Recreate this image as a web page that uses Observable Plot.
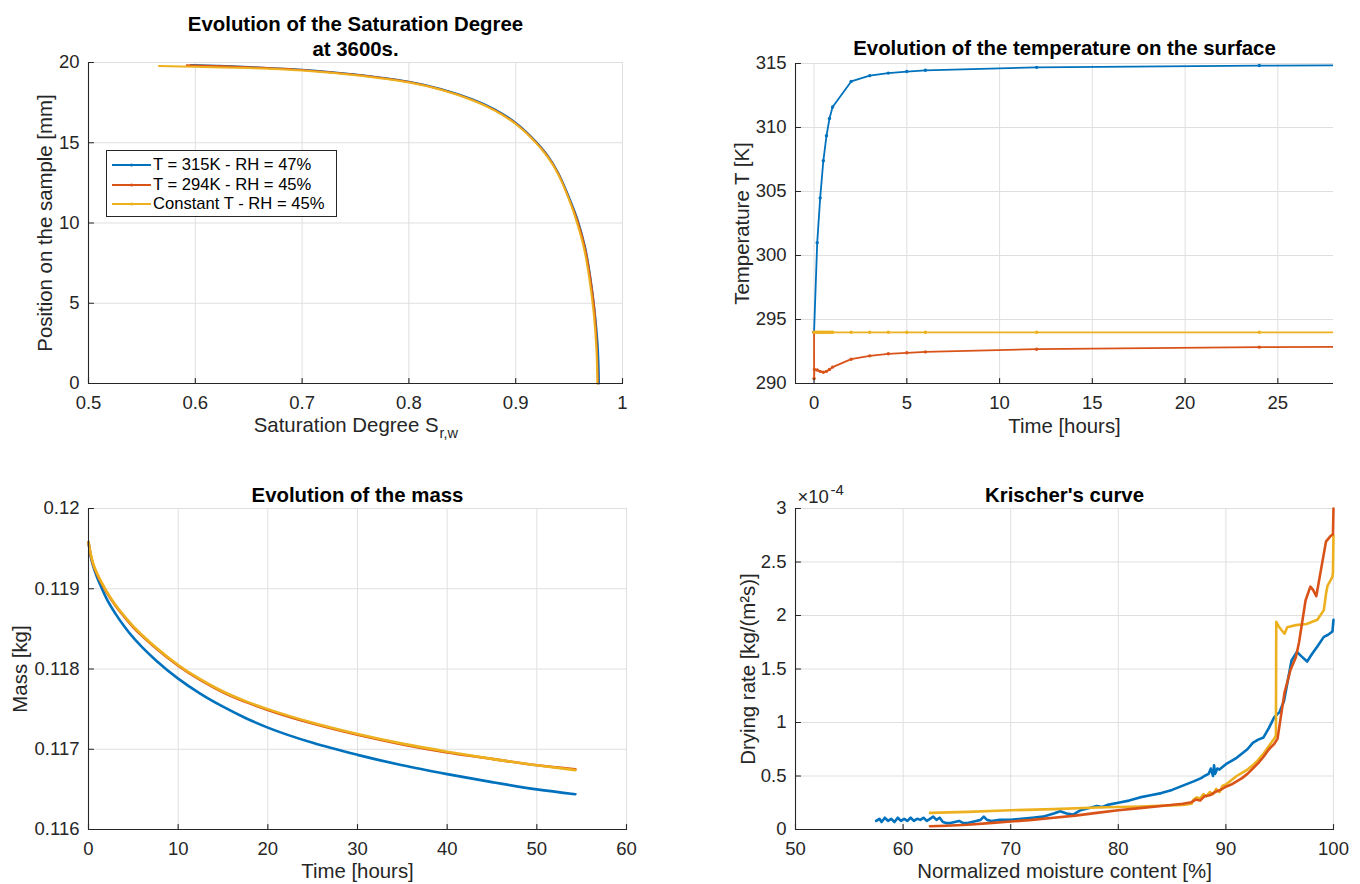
<!DOCTYPE html>
<html><head><meta charset="utf-8">
<script src="https://cdn.jsdelivr.net/npm/d3@7"></script>
<script src="https://cdn.jsdelivr.net/npm/@observablehq/plot@0.6"></script>
<style>
body{margin:0;background:#fff;}
#fig{position:relative;width:1360px;height:884px;background:#fff;overflow:hidden;font-family:"Liberation Sans",Arial,Helvetica,sans-serif;}
#fig > svg{position:absolute;}
.legend{position:absolute;left:106px;top:150px;width:229px;height:65px;border:1px solid #262626;background:#fff;}
.legend .row{position:absolute;left:0;height:20px;display:flex;align-items:center;font-size:16.6px;color:#000;white-space:nowrap;}
.legend .row svg{display:block;margin-left:5px;margin-right:2px;}
</style></head><body><div id="fig"></div>
<script>
// ---------- colours / labels ----------
const seriesNames = ["T = 315K - RH = 47%", "T = 294K - RH = 45%", "Constant T - RH = 45%"];
const seriesColors = ["#0072BD", "#D95319", "#EDB120"];

// ---------- Panel 1 : saturation degree profile at 3600 s ----------
const satBlueX = [0.596,0.62,0.65,0.7,0.75,0.8,0.83,0.86,0.88,0.9,0.915,0.93,0.94,0.95,0.958,0.965,0.97,0.974,0.977,0.978];
const satBlueY = [19.85,19.8,19.72,19.55,19.25,18.8,18.35,17.7,17.1,16.25,15.35,14.2,13.1,11.6,10.2,8.5,6.6,4.5,2.2,0];
const satRedX  = [0.592,0.62,0.65,0.7,0.75,0.8,0.83,0.86,0.88,0.9,0.915,0.93,0.94,0.95,0.958,0.965,0.97,0.974,0.976,0.977];
const satRedY  = [19.83,19.78,19.71,19.54,19.23,18.78,18.32,17.66,17.05,16.2,15.3,14.15,13.05,11.5,10.1,8.4,6.5,4.4,2.2,0];
const satYelX  = [0.566,0.6,0.65,0.7,0.75,0.8,0.83,0.86,0.88,0.9,0.915,0.93,0.94,0.95,0.957,0.964,0.969,0.973,0.9755,0.9765];
const satYelY  = [19.78,19.73,19.66,19.5,19.2,18.75,18.3,17.63,17.02,16.17,15.27,14.1,13.0,11.45,10.1,8.4,6.5,4.4,2.2,0];
const satXTicks = [0.5,0.6,0.7,0.8,0.9,1];
const satYTicks = [0,5,10,15,20];

// ---------- Panel 2 : surface temperature ----------
const tempBlueT = [0,0.17,0.33,0.5,0.67,0.83,1,2,3,4,5,6,12,24,48];
const tempBlueV = [294,301,304.5,307.4,309.35,310.7,311.6,313.6,314.05,314.25,314.37,314.47,314.7,314.84,314.9];
const tempRedT  = [0,0.003,0.02,0.17,0.33,0.5,0.67,0.83,1,2,3,4,5,6,12,24,48];
const tempRedV  = [294,290.4,291.1,291.05,290.95,290.88,290.95,291.1,291.28,291.9,292.16,292.32,292.4,292.47,292.68,292.84,292.95];
const tempYelT  = [0,0.083,0.17,0.25,0.33,0.42,0.5,0.58,0.67,0.75,0.83,0.92,1,2,3,4,5,6,12,24,48];
const tempYelV  = [294,294,294,294,294,294,294,294,294,294,294,294,294,294,294,294,294,294,294,294,294];
const tempXTicks = [0,5,10,15,20,25];
const tempYTicks = [290,295,300,305,310,315];

// ---------- Panel 3 : mass ----------
const massT    = [0,0.25,0.5,1,1.5,2,3,4,5,6,7.5,10,12.5,15,17.5,20,25,30,35,40,45,50,54.3];
const massBlue = [0.11958,0.11940,0.11929,0.11913,0.11900,0.11888,0.11869,0.11853,0.11839,0.11827,0.11811,0.11788,0.11769,0.11753,0.11739,0.11727,0.11708,0.11693,0.11680,0.11669,0.11659,0.11650,0.11644];
const massRed  = [0.11958,0.11942,0.11931,0.11917,0.11906,0.11896,0.11879,0.11865,0.11852,0.11841,0.11826,0.11804,0.11786,0.11771,0.11759,0.11749,0.11732,0.11718,0.11706,0.11696,0.11688,0.11680,0.11675];
const massYel  = [0.11958,0.11943,0.11932,0.11918,0.11907,0.11897,0.11880,0.11866,0.11853,0.11842,0.11827,0.11805,0.11787,0.11772,0.11760,0.11750,0.11733,0.11719,0.11707,0.11697,0.11688,0.11680,0.11674];
const massXTicks = [0,10,20,30,40,50,60];
const massYTicks = [0.116,0.117,0.118,0.119,0.12];

// ---------- Panel 4 : Krischer's curve (drying rate in units of 1e-4 kg/(m2 s)) ----------
const kBlueX = [57.5,57.8,58.0,58.3,58.6,58.9,59.2,59.5,59.8,60.1,60.4,60.7,61.0,61.3,61.6,61.9,62.2,62.5,62.8,63.1,63.4,63.7,64.0,64.4,64.8,65.2,65.6,66.0,66.4,66.8,67.2,67.5,67.8,68.2,69.0,70.0,71.0,72.0,73.0,74.0,74.6,75.2,75.8,76.5,77.3,78.0,78.5,79.0,80.0,81.0,82.0,83.0,84.0,85.0,86.0,87.0,87.7,88.0,88.4,88.6,88.8,88.9,89.0,89.2,89.4,90.0,91.0,92.0,92.5,93.0,93.5,94.0,94.5,95.0,95.4,95.75,96.1,96.6,97.0,97.55,98.0,98.5,99.1,99.5,99.9,100];
const kBlueY = [0.08,0.10,0.07,0.11,0.08,0.10,0.07,0.11,0.08,0.10,0.08,0.11,0.08,0.10,0.09,0.11,0.08,0.10,0.12,0.09,0.11,0.07,0.06,0.06,0.07,0.08,0.06,0.06,0.07,0.08,0.09,0.12,0.09,0.08,0.09,0.09,0.10,0.11,0.12,0.15,0.17,0.15,0.14,0.18,0.20,0.22,0.21,0.23,0.25,0.27,0.30,0.32,0.34,0.37,0.41,0.45,0.48,0.50,0.52,0.57,0.50,0.60,0.52,0.57,0.56,0.61,0.67,0.75,0.81,0.84,0.86,0.95,1.05,1.10,1.20,1.39,1.58,1.66,1.62,1.57,1.64,1.71,1.80,1.82,1.85,1.96];
const kRedX  = [62.5,64,66,68,70,72,74,76,78,80,82,84,86,86.8,87.2,87.6,88.0,88.5,89.0,89.5,90.0,90.5,91.0,91.5,92.0,92.5,93.0,93.5,94.0,94.5,94.8,95.1,95.45,96.0,96.5,96.8,97.2,97.4,97.85,98.1,98.4,98.7,99.0,99.3,99.7,99.95,100];
const kRedY  = [0.03,0.035,0.045,0.06,0.075,0.09,0.11,0.13,0.155,0.18,0.20,0.22,0.24,0.255,0.28,0.27,0.31,0.32,0.35,0.37,0.40,0.42,0.45,0.48,0.52,0.57,0.62,0.68,0.75,0.80,0.85,1.05,1.28,1.49,1.61,1.75,2.01,2.14,2.27,2.24,2.18,2.35,2.52,2.69,2.74,2.76,3.0];
const kYelX  = [62.5,66,70,74,78,82,86,86.8,87.0,87.3,87.6,87.9,88.2,88.5,88.8,89.1,89.4,89.7,90.0,90.5,91.0,91.5,92.0,92.5,93.0,93.5,94.0,94.5,94.65,94.68,94.9,95.2,95.45,95.7,96.5,97.5,98.5,99.1,99.3,99.45,99.9,99.95,100];
const kYelY  = [0.155,0.165,0.18,0.19,0.205,0.215,0.23,0.24,0.28,0.30,0.29,0.33,0.31,0.35,0.33,0.38,0.35,0.41,0.42,0.46,0.50,0.53,0.56,0.60,0.65,0.71,0.78,0.85,0.88,1.94,1.90,1.86,1.83,1.89,1.91,1.92,1.96,2.05,2.20,2.28,2.36,2.40,2.75];
const kXTicks = [50,60,70,80,90,100];
const kYTicks = [0,0.5,1,1.5,2,2.5,3];

// ---------- helpers ----------
const FONT = '"Liberation Sans", Arial, Helvetica, sans-serif';
const AX = "#262626", GRID = "#dfdfdf";
const TICK = {draw(ctx, l) { ctx.moveTo(0, 0); ctx.lineTo(0, -l); }};
const zipXY = (xs, ys) => xs.map((x, i) => ({x, y: ys[i]}));

function gridMarks(xt, yt) {
  return [
    Plot.gridX(xt, {stroke: GRID, strokeOpacity: 1}),
    Plot.gridY(yt, {stroke: GRID, strokeOpacity: 1})
  ];
}
function axisMarks(xd, yd, xt, yt, xfmt, yfmt) {
  return [
    Plot.ruleY([yd[0]], {stroke: AX, strokeWidth: 1.1}),
    Plot.ruleX([xd[0]], {stroke: AX, strokeWidth: 1.1}),
    Plot.vector(xt, {x: d => d, y: yd[0], length: 5, rotate: 0, anchor: "start", shape: TICK, stroke: AX, strokeWidth: 1.1}),
    Plot.vector(yt, {x: xd[0], y: d => d, length: 5, rotate: 90, anchor: "start", shape: TICK, stroke: AX, strokeWidth: 1.1}),
    Plot.axisX(xt, {tickSize: 0, tickPadding: 12, tickFormat: xfmt, label: null, fill: AX, fontSize: 18.5}),
    Plot.axisY(yt, {tickSize: 0, tickPadding: 9, tickFormat: yfmt, label: null, fill: AX, fontSize: 18.5})
  ];
}
function yLabel(text, dx) {
  return Plot.text([text], {text: d => d, frameAnchor: "left", dx, rotate: -90, textAnchor: "middle", lineAnchor: "middle", fontSize: 20.4, fill: AX});
}
function place(svg, left, top) {
  svg.style.left = left + "px";
  svg.style.top = top + "px";
  document.getElementById("fig").appendChild(svg);
}
const baseStyle = {fontFamily: FONT, fontSize: "18.5px", color: AX, background: "transparent", overflow: "visible"};

// ---------- Panel 1 ----------
{
  const xd = [0.5, 1], yd = [0, 20];
  const data = [zipXY(satBlueX, satBlueY), zipXY(satRedX, satRedY), zipXY(satYelX, satYelY)];
  const svg = Plot.plot({
    width: 680, height: 442, marginLeft: 88, marginTop: 62, marginRight: 58, marginBottom: 59,
    style: baseStyle,
    x: {domain: xd}, y: {domain: yd},
    marks: [
      ...gridMarks(satXTicks, satYTicks),
      ...data.map((d, i) => Plot.line(d, {x: "x", y: "y", stroke: seriesColors[i], strokeWidth: 2, curve: "catmull-rom"})),
      ...axisMarks(xd, yd, satXTicks, satYTicks, d => String(d), d => String(d)),
      Plot.text(["Evolution of the Saturation Degree\nat 3600s."], {text: d => d, frameAnchor: "top", dy: -27, lineAnchor: "middle", lineHeight: 1.255, fontSize: 20.4, fontWeight: "bold", fill: "#000"}),
      yLabel("Position on the sample [mm]", -43),
      Plot.text(["Saturation Degree S"], {text: d => d, frameAnchor: "bottom", dx: 83, dy: 42, textAnchor: "end", lineAnchor: "middle", fontSize: 20.4, fill: AX}),
      Plot.text(["r,w"], {text: d => d, frameAnchor: "bottom", dx: 84, dy: 50, textAnchor: "start", lineAnchor: "middle", fontSize: 14.5, fill: AX})
    ]
  });
  place(svg, 0, 0);
}

// ---------- Panel 2 ----------
{
  const xd = [-1, 28], yd = [290, 315];
  const data = [zipXY(tempBlueT, tempBlueV), zipXY(tempRedT, tempRedV), zipXY(tempYelT, tempYelV)];
  const svg = Plot.plot({
    width: 680, height: 442, marginLeft: 115, marginTop: 63, marginRight: 27, marginBottom: 59,
    style: baseStyle,
    x: {domain: xd}, y: {domain: yd},
    marks: [
      ...gridMarks(tempXTicks, tempYTicks),
      ...data.flatMap((d, i) => [
        Plot.line(d, {x: "x", y: "y", stroke: seriesColors[i], strokeWidth: 1.8, clip: true}),
        Plot.dot(d, {x: "x", y: "y", fill: seriesColors[i], r: 1.7, clip: true})
      ]),
      ...axisMarks(xd, yd, tempXTicks, tempYTicks, d => String(d), d => String(d)),
      Plot.text(["Evolution of the temperature on the surface"], {text: d => d, frameAnchor: "top", dy: -15, lineAnchor: "middle", fontSize: 20.4, fontWeight: "bold", fill: "#000"}),
      yLabel("Temperature T [K]", -53),
      Plot.text(["Time [hours]"], {text: d => d, frameAnchor: "bottom", dy: 43, lineAnchor: "middle", fontSize: 20.4, fill: AX})
    ]
  });
  place(svg, 680, 0);
}

// ---------- Panel 3 ----------
{
  const xd = [0, 60], yd = [0.116, 0.12];
  const data = [zipXY(massT, massBlue), zipXY(massT, massRed), zipXY(massT, massYel)];
  const svg = Plot.plot({
    width: 680, height: 442, marginLeft: 88, marginTop: 66, marginRight: 54, marginBottom: 55,
    style: baseStyle,
    x: {domain: xd}, y: {domain: yd},
    marks: [
      ...gridMarks(massXTicks, massYTicks),
      ...data.map((d, i) => Plot.line(d, {x: "x", y: "y", stroke: seriesColors[i], strokeWidth: 2.6, curve: "monotone-x"})),
      ...axisMarks(xd, yd, massXTicks, massYTicks, d => String(d), d => String(+d.toFixed(3))),
      Plot.text(["Evolution of the mass"], {text: d => d, frameAnchor: "top", dy: -13, lineAnchor: "middle", fontSize: 20.4, fontWeight: "bold", fill: "#000"}),
      yLabel("Mass [kg]", -68),
      Plot.text(["Time [hours]"], {text: d => d, frameAnchor: "bottom", dy: 42, lineAnchor: "middle", fontSize: 20.4, fill: AX})
    ]
  });
  place(svg, 0, 442);
}

// ---------- Panel 4 ----------
{
  const xd = [50, 100], yd = [0, 3];
  const data = [zipXY(kBlueX, kBlueY), zipXY(kYelX, kYelY), zipXY(kRedX, kRedY)];
  const cols = [seriesColors[0], seriesColors[2], seriesColors[1]];
  const svg = Plot.plot({
    width: 680, height: 442, marginLeft: 115, marginTop: 66, marginRight: 27, marginBottom: 55,
    style: baseStyle,
    x: {domain: xd}, y: {domain: yd},
    marks: [
      ...gridMarks(kXTicks, kYTicks),
      ...data.map((d, i) => Plot.line(d, {x: "x", y: "y", stroke: cols[i], strokeWidth: 2.6})),
      ...axisMarks(xd, yd, kXTicks, kYTicks, d => String(d), d => String(d)),
      Plot.text(["Krischer's curve"], {text: d => d, frameAnchor: "top", dy: -13, lineAnchor: "middle", fontSize: 20.4, fontWeight: "bold", fill: "#000"}),
      Plot.text(["×10"], {text: d => d, frameAnchor: "top-left", dx: 2, dy: -11, textAnchor: "start", lineAnchor: "middle", fontSize: 18.5, fill: AX}),
      Plot.text(["-4"], {text: d => d, frameAnchor: "top-left", dx: 35, dy: -18, textAnchor: "start", lineAnchor: "middle", fontSize: 15, fill: AX}),
      yLabel("Drying rate [kg/(m²s)]", -47),
      Plot.text(["Normalized moisture content [%]"], {text: d => d, frameAnchor: "bottom", dy: 42, lineAnchor: "middle", fontSize: 20.4, fill: AX})
    ]
  });
  place(svg, 680, 442);
}

// ---------- Legend (panel 1) ----------
{
  const lg = document.createElement("div");
  lg.className = "legend";
  seriesNames.forEach((name, i) => {
    const row = document.createElement("div");
    row.className = "row";
    row.style.top = (4 + i * 19.5) + "px";
    row.innerHTML = `<svg width="39" height="20"><line x1="0" y1="10" x2="39" y2="10" stroke="${seriesColors[i]}" stroke-width="2"/><circle cx="19.5" cy="10" r="1.6" fill="${seriesColors[i]}"/></svg><span>${name}</span>`;
    lg.appendChild(row);
  });
  document.getElementById("fig").appendChild(lg);
}
</script></body></html>
